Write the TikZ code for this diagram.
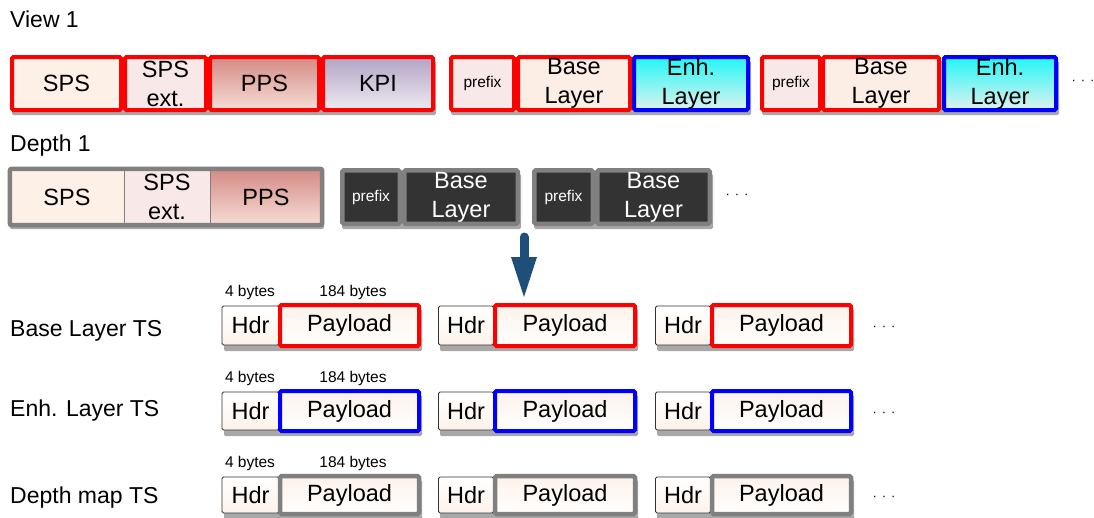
\documentclass[tikz,border=0pt]{standalone}
\usepackage{fontspec}
\setmainfont{Liberation Sans}
\usetikzlibrary{calc}
\definecolor{cred}{HTML}{FF0000}
\definecolor{cblue}{HTML}{0000FF}
\definecolor{cgray}{HTML}{808080}
\definecolor{cshadow}{HTML}{A8A8A8}
\definecolor{cdark}{HTML}{333333}
\definecolor{carrow}{HTML}{1F4E79}
\definecolor{fsps}{HTML}{FDF0E6}
\definecolor{fspsext}{HTML}{F8E8E8}
\definecolor{fppsT}{HTML}{D48A84}
\definecolor{fppsB}{HTML}{F6DED6}
\definecolor{fkpiT}{HTML}{B2A4C6}
\definecolor{fkpiB}{HTML}{EEEAF0}
\definecolor{fprefix}{HTML}{F8E8E8}
\definecolor{fbase}{HTML}{FCEEE5}
\definecolor{fenhT}{HTML}{22F6F6}
\definecolor{fenhB}{HTML}{E0F2EE}
\definecolor{fpay}{HTML}{FDF2EA}
\tikzset{
  cell/.style={rectangle, inner sep=0pt, align=center, rounded corners=1.5pt,
    font=\fontsize{23.5}{29}\selectfont},
  small/.style={font=\fontsize{15.5}{17}\selectfont},
  redb/.style={draw=cred, line width=4pt},
  blueb/.style={draw=cblue, line width=4pt},
  grayb/.style={draw=cgray, line width=4.5pt},
  thinb/.style={draw=black!80, line width=0.8pt},
  fSPS/.style={fill=fsps},
  fSPSX/.style={fill=fspsext},
  fPPS/.style={top color=fppsT, bottom color=fppsB},
  fKPI/.style={top color=fkpiT, bottom color=fkpiB},
  fPRE/.style={fill=fprefix},
  fBASE/.style={fill=fbase},
  fENH/.style={top color=fenhT, bottom color=fenhB},
  fDARK/.style={fill=cdark, text=white},
  fHDR/.style={top color=white, bottom color=fpay},
  fPAY/.style={top color=fpay, bottom color=white},
  lbl/.style={anchor=base west, inner sep=0pt, font=\fontsize{23}{26}\selectfont},
  bytes/.style={inner sep=0pt, font=\fontsize{15.5}{17}\selectfont},
  dots/.style={inner sep=0pt, font=\fontsize{13}{14}\selectfont},
  shadow/.style={fill=cshadow, rounded corners=1.5pt},
}
\newcommand\mkshadow[4]{\fill[shadow] (#1+2,#3+6) rectangle (#2+1,#4+3);}
\begin{document}
\begin{tikzpicture}[x=1pt,y=-1pt]
\useasboundingbox (0,0) rectangle (1094,517);

% ---------- View 1 ----------
\node[lbl] (view) at (10,27) {View 1};
\mkshadow{10}{435}{55}{112}
\mkshadow{449}{750}{55}{112}
\mkshadow{760}{1058}{55}{112}
\node[cell,redb,fSPS,minimum width=109,minimum height=53] (vsps) at (66.5,83.5) {SPS};
\node[cell,redb,fSPSX,minimum width=81,minimum height=53] (vspsx) at (165.5,83.5) {SPS\\ext.};
\node[cell,redb,fPPS,minimum width=109,minimum height=53] (vpps) at (264.5,83.5) {PPS};
\node[cell,redb,fKPI,minimum width=110,minimum height=53] (vkpi) at (378,83.5) {KPI};
\node[cell,redb,fPRE,small,minimum width=63,minimum height=53] (vpre1) at (482.5,83.5) {prefix};
\node[cell,redb,fBASE,minimum width=112,minimum height=53] (vbase1) at (574,83.5) {Base\\Layer};
\node[cell,blueb,fENH,minimum width=114,minimum height=53] (venh1) at (691,83.5) {Enh.\\Layer};
\node[cell,redb,fPRE,small,minimum width=58,minimum height=53] (vpre2) at (791,83.5) {prefix};
\node[cell,redb,fBASE,minimum width=116,minimum height=53] (vbase2) at (881,83.5) {Base\\Layer};
\node[cell,blueb,fENH,minimum width=112,minimum height=53] (venh2) at (1000,83.5) {Enh.\\Layer};
\node[dots] (vdots) at (1083,82) {·\hspace{5pt}·\hspace{5pt}·};

% ---------- Depth 1 ----------
\node[lbl] (depth) at (10,151) {Depth 1};
\mkshadow{8}{323}{168}{226}
\mkshadow{340}{520}{168}{226}
\mkshadow{532}{712}{168}{226}
\node[cell,fSPS,minimum width=114,minimum height=56] (dsps) at (67,197) {SPS};
\node[cell,fSPSX,minimum width=86,minimum height=56] (dspsx) at (167,197) {SPS\\ext.};
\node[cell,fPPS,minimum width=112,minimum height=56] (dpps) at (266,197) {PPS};
\draw[grayb, rounded corners=2pt] (dsps.north west) rectangle (dpps.south east);
\draw[cgray, line width=0.8pt] (dsps.north east) -- (dsps.south east);
\draw[cgray, line width=0.8pt] (dspsx.north east) -- (dspsx.south east);
\node[cell,grayb,fDARK,small,minimum width=57.5,minimum height=53.5] (dpre1) at (371,197) {prefix};
\node[cell,grayb,fDARK,minimum width=113.5,minimum height=53.5] (dbase1) at (461,197) {Base\\Layer};
\node[cell,grayb,fDARK,small,minimum width=58.5,minimum height=53.5] (dpre2) at (563.5,197) {prefix};
\node[cell,grayb,fDARK,minimum width=112.5,minimum height=53.5] (dbase2) at (653.5,197) {Base\\Layer};
\node[dots] (ddots) at (737,196) {·\hspace{5pt}·\hspace{5pt}·};

% ---------- arrow ----------
\coordinate (arrS) at (524,237);
\coordinate (arrM) at (524,262);
\coordinate (arrE) at (524,297);
\draw[carrow, line width=9pt, line cap=round] (arrS) -- (arrM);
\fill[carrow] (arrE) -- ($(arrE)+(-13,-40)$) -- ($(arrE)+(13,-40)$) -- cycle;

% ---------- TS rows ----------
\newcommand\tsrow[5]{%
  \mkshadow{222}{421}{#1}{#2}
  \mkshadow{438}{637}{#1}{#2}
  \mkshadow{655}{853}{#1}{#2}
  \node[cell,thinb,fHDR,minimum width=57,minimum height={#2-#1-6}] (h1#3) at (250.5,{(#1+#2)/2}) {Hdr};
  \node[cell,thinb,fHDR,minimum width=55,minimum height={#2-#1-6}] (h2#3) at (466,{(#1+#2)/2}) {Hdr};
  \node[cell,thinb,fHDR,minimum width=55,minimum height={#2-#1-6}] (h3#3) at (683,{(#1+#2)/2}) {Hdr};
  \node[cell,#3,fPAY,minimum width=139,minimum height={#2-#1-4}] (p1#3) at (349.5,{(#1+#2)/2}) {Payload};
  \node[cell,#3,fPAY,minimum width=140,minimum height={#2-#1-4}] (p2#3) at (565,{(#1+#2)/2}) {Payload};
  \node[cell,#3,fPAY,minimum width=139,minimum height={#2-#1-4}] (p3#3) at (781.5,{(#1+#2)/2}) {Payload};
  \node[lbl] (lab#3) at (10,{#5+8}) {#4};
  \node[bytes] (b4#3) at (250,{#1-11}) {4 bytes};
  \node[bytes] (b184#3) at (353,{#1-11}) {184 bytes};
  \node[dots] (dots#3) at (884,{(#1+#2)/2+3}) {·\hspace{5pt}·\hspace{5pt}·};
}
\tsrow{303}{348}{redb}{Base Layer TS}{328}
\tsrow{389}{433}{blueb}{Enh. Layer TS}{408}
\tsrow{474}{516}{grayb}{Depth map TS}{495}

\end{tikzpicture}
\end{document}
